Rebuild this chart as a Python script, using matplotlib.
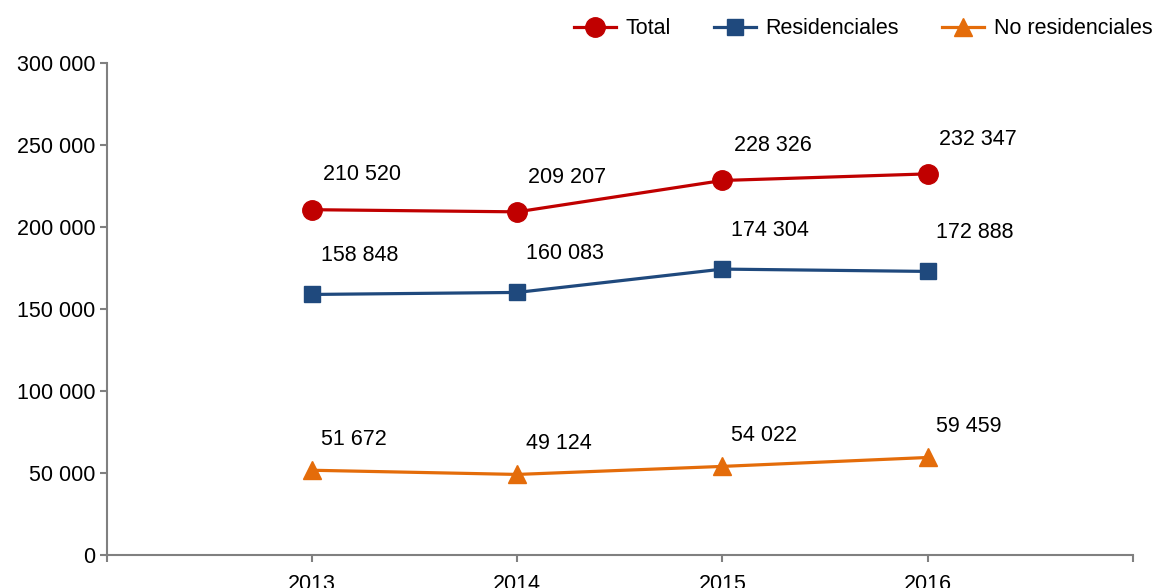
import numpy as np
import matplotlib.pyplot as plt
from matplotlib.ticker import FuncFormatter

years = ["2013", "2014", "2015", "2016"]
total = [210520, 209207, 228326, 232347]
residenciales = [158848, 160083, 174304, 172888]
no_residenciales = [51672, 49124, 54022, 59459]

plt.rcParams['font.family'] = ['Liberation Sans', 'DejaVu Sans']

def fmt(v, pos=None):
    return f"{int(v):,}".replace(",", " ")

fig = plt.figure(figsize=(11.57, 5.88), dpi=100)
ax = fig.add_axes([0.0925, 0.0561, 0.8865, 0.8369])

x = np.arange(len(years))
series = [
    (total, "Total", "#C00000", "o", 14, (36, 25)),
    (residenciales, "Residenciales", "#1F497D", "s", 12, (34, 28)),
    (no_residenciales, "No residenciales", "#E46C0A", "^", 13, (30, 22)),
]
for vals, name, col, mk, ms, off in series:
    ax.plot(x, vals, color=col, lw=2.3, marker=mk, markersize=ms, label=name)
    for xi, v in zip(x, vals):
        ax.annotate(fmt(v), (xi, v), xytext=off, textcoords="offset points",
                    ha="center", va="center", fontsize=15.5, color="black")

ax.set_xlim(-1, 4)
ax.set_ylim(0, 300000)
ax.set_yticks(np.arange(0, 300001, 50000))
ax.yaxis.set_major_formatter(FuncFormatter(fmt))
ax.set_xticks(np.arange(-1, 5))
ax.set_xticklabels([""] + years + [""])

for s in ["top", "right"]:
    ax.spines[s].set_visible(False)
for s in ["left", "bottom"]:
    ax.spines[s].set_color("#808080")
    ax.spines[s].set_linewidth(1.5)
ax.tick_params(axis="both", colors="#808080", labelcolor="black", labelsize=15.5,
               length=5, width=1.5, direction="out")
ax.tick_params(axis="x", pad=9)

ax.legend(loc="upper right", bbox_to_anchor=(1.038, 1.13), ncol=3, frameon=False,
          fontsize=15.5, handlelength=1.95, columnspacing=2.0, handletextpad=0.45)

fig.savefig("out.png", dpi=100)
